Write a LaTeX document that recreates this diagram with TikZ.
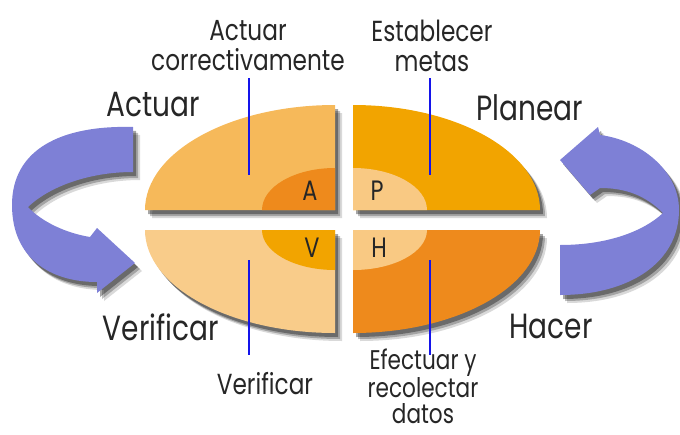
\documentclass[tikz,border=0pt]{standalone}
\usepackage{fontspec}
\newfontfamily\futura{Poppins}[FakeStretch=0.8]
\definecolor{pdcaPurple}{RGB}{126, 128, 214}
\definecolor{pdcaLight}{RGB}{246, 185, 90}
\definecolor{pdcaPale}{RGB}{249, 204, 138}
\definecolor{pdcaCream}{RGB}{249, 201, 131}
\definecolor{pdcaAmber}{RGB}{242, 164, 0}
\definecolor{pdcaDeep}{RGB}{238, 138, 28}
\definecolor{pdcaLine}{RGB}{20, 20, 235}
\usetikzlibrary{positioning, calc, shadows}

\begin{document}
\begin{tikzpicture}[
    x=1pt, y=-1pt,
    softshade/.style={
      general shadow={shadow xshift=7pt, shadow yshift=-8pt, opacity=0.15, fill=black},
      general shadow={shadow xshift=5pt, shadow yshift=-6pt, opacity=0.25, fill=black},
      general shadow={shadow xshift=3pt, shadow yshift=-4pt, opacity=0.35, fill=black}},
    phasebox/.style={softshade},
    cyclearrow/.style={fill=pdcaPurple, softshade},
    bigtag/.style={font=\futura\fontsize{35}{40}\selectfont, text=black!85},
    note/.style={font=\futura\fontsize{29}{30}\selectfont, text=black!85,
                 align=center},
    letter/.style={font=\futura\fontsize{28}{30}\selectfont, text=black!85},
    leader/.style={draw=pdcaLine, line width=1.3pt},
  ]
    \useasboundingbox (0,0) rectangle (680,434);

    % arrows around the cycle
    \path[cyclearrow] (133,127) .. controls (60,125) and (12,150) .. (12,205)
        .. controls (12,258) and (50,282) .. (97,282) -- (97,293) -- (135,263)
        -- (97,228) -- (90,237) .. controls (60,232) and (38,218) .. (28,207)
        .. controls (50,186) and (90,172) .. (133,172) -- cycle;
    \path[cyclearrow] (560,160) -- (598,127) -- (600,135)
        .. controls (640,140) and (679,170) .. (679,210)
        .. controls (679,262) and (630,295) .. (560,295) -- (560,245)
        .. controls (610,245) and (645,230) .. (663,213)
        .. controls (645,195) and (625,188) .. (600,188) -- (590,195) -- cycle;

    % quadrants
    \fill[phasebox, pdcaLight] (335,210) -- (145,210)
        arc[start angle=180, end angle=270, x radius=190, y radius=105] -- cycle;
    \fill[phasebox, pdcaAmber] (353,210) -- (353,105)
        arc[start angle=270, end angle=360, x radius=187, y radius=105] -- cycle;
    \fill[phasebox, pdcaPale] (335,230) -- (335,333)
        arc[start angle=90, end angle=180, x radius=190, y radius=103] -- cycle;
    \fill[phasebox, pdcaDeep] (353,230) -- (540,230)
        arc[start angle=0, end angle=90, x radius=187, y radius=103] -- cycle;

    \fill[pdcaDeep] (335,210) -- (262,210)
        arc[start angle=180, end angle=270, x radius=73, y radius=42] -- cycle;
    \fill[pdcaCream] (353,210) -- (353,168)
        arc[start angle=270, end angle=360, x radius=74, y radius=42] -- cycle;
    \fill[pdcaAmber] (335,230) -- (335,270)
        arc[start angle=90, end angle=180, x radius=73, y radius=40] -- cycle;
    \fill[pdcaCream] (353,230) -- (427,230)
        arc[start angle=0, end angle=90, x radius=74, y radius=40] -- cycle;

    \node[letter] (A) at (310,191) {A};
    \node[letter] (P) at (377,191) {P};
    \node[letter] (V) at (312,248) {V};
    \node[letter] (H) at (379,248) {H};

    % phase names
    \node[bigtag] (actuar) at (153,105) {Actuar};
    \node[bigtag] (planear) at (530,108) {Planear};
    \node[bigtag] (verificar) at (161,327) {Verificar};
    \node[bigtag] (hacer) at (551,326) {Hacer};

    % notes and leaders
    \node[note] (corregir) at (248,46) {Actuar\\correctivamente};
    \node[note] (metas) at (432,46) {Establecer\\metas};
    \node[note] (revisar) at (265,384) {Verificar};
    \node[note, font=\futura\fontsize{27}{26}\selectfont, inner sep=1pt]
         (efectuar) at (423,386) {Efectuar y\\recolectar\\datos};

    \coordinate (c1a) at (249,78);  \coordinate (c1b) at (249,175);
    \coordinate (c2a) at (430,78);  \coordinate (c2b) at (430,175);
    \coordinate (c3a) at (249,260); \coordinate (c3b) at (249,355);
    \coordinate (c4a) at (430,260); \coordinate (c4b) at (430,355);
    \draw[leader] (c1a) -- (c1b);
    \draw[leader] (c2a) -- (c2b);
    \draw[leader] (c3a) -- (c3b);
    \draw[leader] (c4a) -- (c4b);
  \end{tikzpicture}
\end{document}
